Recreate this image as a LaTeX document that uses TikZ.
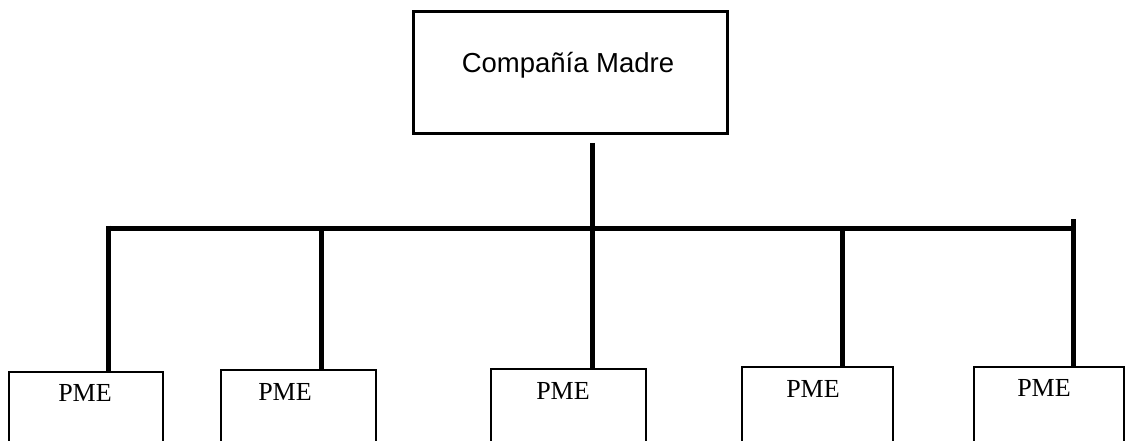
\documentclass[tikz,border=0pt]{standalone}
\usepackage{fontspec}
\setmainfont{Liberation Serif}
\newfontfamily\headfont{Liberation Sans}
\begin{document}
\begin{tikzpicture}[x=1pt,y=-1pt,
  parentbox/.style={draw,line width=3pt,inner sep=0pt,outer sep=0pt,anchor=north west},
  unitbox/.style={draw,line width=2pt,inner sep=0pt,outer sep=0pt,anchor=north west},
  unitlabel/.style={inner sep=0pt,anchor=base,font=\fontsize{26}{30}\selectfont},
  bus/.style={line width=5pt,line cap=butt}]
\useasboundingbox (0,0) rectangle (1125,441);
% parent company
\node[parentbox,minimum width=314pt,minimum height=122pt] (madre) at (413,12) {};
\node[inner sep=0pt,anchor=base,font=\headfont\fontsize{27.5}{32}\selectfont] (madretxt) at (568,73) {Compañía Madre};
% subsidiaries (their lower edges run off the page)
\node[unitbox,minimum width=154pt,minimum height=71pt] (p1) at (9,372) {};
\node[unitbox,minimum width=155pt,minimum height=73pt] (p2) at (221,370) {};
\node[unitbox,minimum width=155pt,minimum height=74pt] (p3) at (491,369) {};
\node[unitbox,minimum width=151pt,minimum height=76pt] (p4) at (742,367) {};
\node[unitbox,minimum width=150pt,minimum height=76pt] (p5) at (974,367) {};
\node[unitlabel] (t1) at (85,401) {PME};
\node[unitlabel] (t2) at (285,400) {PME};
\node[unitlabel] (t3) at (563,399) {PME};
\node[unitlabel] (t4) at (813,397) {PME};
\node[unitlabel] (t5) at (1044,396) {PME};
% bus junctions
\coordinate (stem) at (592,143);
\coordinate (j1) at (108,228);
\coordinate (j2) at (321,228);
\coordinate (j3) at (592,228);
\coordinate (j4) at (842,228);
\coordinate (j5) at (1073,228);
\coordinate (j5top) at (1073,219);
% connectors
\draw[bus] (stem) -- ([yshift=-2.5pt]j3);
\draw[bus] (j1) -- (j5);
\draw[bus] ([yshift=2.5pt]j1) -- (j1 |- p1.north);
\draw[bus] (j2) -- (j2 |- p2.north);
\draw[bus] (j3) -- (j3 |- p3.north);
\draw[bus] (j4) -- (j4 |- p4.north);
\draw[bus] (j5top) -- (j5 |- p5.north);
\end{tikzpicture}
\end{document}
